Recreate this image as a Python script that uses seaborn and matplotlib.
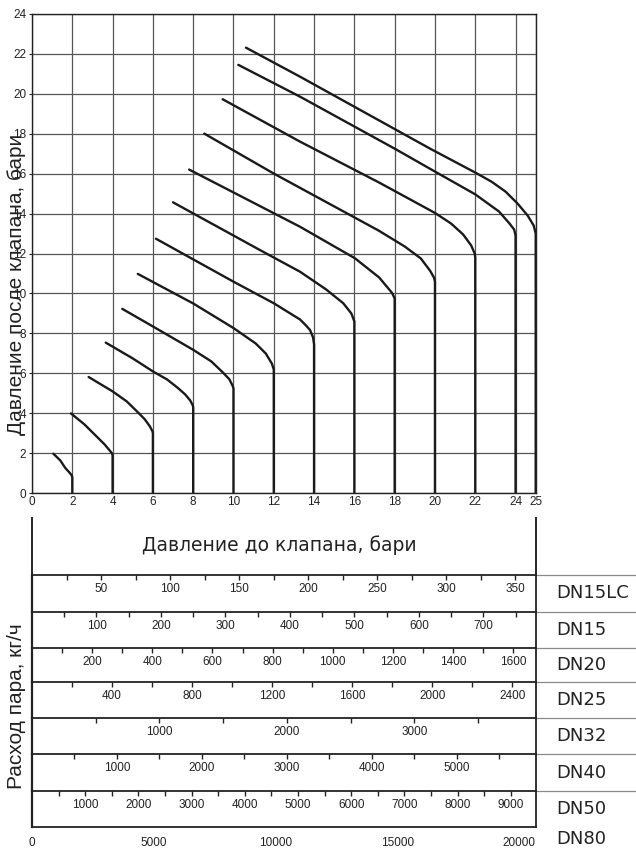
import numpy as np
import pandas as pd
import matplotlib
matplotlib.use("Agg")
import matplotlib.pyplot as plt
import seaborn as sns

# outlet pressure curves, one per max inlet pressure (bar)
curve_end = [2, 4, 6, 8, 10, 12, 14, 16, 18, 20, 22, 24, 25]
curve_x = [
    [1.06, 1.4, 1.65, 1.85, 1.97, 2.0, 2.0],
    [1.93, 2.6, 3.2, 3.6, 3.85, 3.97, 4.0, 4.0],
    [2.81, 4.0, 4.7, 5.28, 5.6, 5.85, 5.98, 6.0, 6.0],
    [3.66, 5.0, 6.0, 6.7, 7.23, 7.6, 7.85, 7.98, 8.0, 8.0],
    [4.48, 6.0, 8.0, 8.9, 9.49, 9.8, 9.97, 10.0, 10.0],
    [5.25, 8.0, 10.0, 11.1, 11.6, 11.9, 12.0, 12.0],
    [6.15, 10.0, 12.0, 13.3, 13.6, 13.8, 13.95, 14.0, 14.0],
    [7.0, 11.3, 13.3, 14.6, 15.45, 15.85, 16.0, 16.0],
    [7.8, 13.3, 16.03, 17.23, 17.87, 18.0, 18.0],
    [8.55, 12.0, 17.2, 18.5, 19.3, 19.75, 19.95, 20.0, 20.0],
    [9.46, 13.3, 17.23, 20.0, 20.8, 21.4, 21.8, 21.97, 22.0, 22.0],
    [10.24, 13.3, 18.03, 20.0, 22.0, 23.18, 23.7, 23.93, 24.0, 24.0],
    [10.62, 13.3, 19.79, 22.0, 22.8, 23.5, 24.1, 24.6, 24.9, 25.0, 25.0],
]
curve_y = [
    [1.98, 1.65, 1.27, 1.05, 0.9, 0.8, 0],
    [4.0, 3.45, 2.85, 2.45, 2.15, 2.0, 1.9, 0],
    [5.82, 5.1, 4.6, 4.03, 3.7, 3.35, 3.1, 3.0, 0],
    [7.54, 6.75, 6.1, 5.7, 5.28, 4.95, 4.65, 4.4, 4.3, 0],
    [9.23, 8.35, 7.18, 6.6, 6.03, 5.7, 5.35, 5.25, 0],
    [10.98, 9.5, 8.27, 7.5, 7.0, 6.5, 6.2, 0],
    [12.74, 10.59, 9.51, 8.7, 8.4, 8.17, 7.8, 7.45, 0],
    [14.56, 12.18, 11.09, 10.2, 9.51, 9.0, 8.6, 0],
    [16.2, 13.34, 11.76, 10.8, 10.03, 9.75, 0],
    [18.0, 16.0, 13.15, 12.35, 11.75, 11.15, 10.8, 10.6, 0],
    [19.72, 17.6, 15.55, 14.03, 13.5, 12.95, 12.4, 12.0, 11.8, 0],
    [21.44, 19.85, 17.23, 16.1, 14.96, 14.1, 13.5, 13.2, 12.9, 0],
    [22.3, 20.85, 17.23, 16.05, 15.6, 15.1, 14.5, 13.9, 13.4, 13.0, 0],
]
x_ticks = [0, 2, 4, 6, 8, 10, 12, 14, 16, 18, 20, 22, 24, 25]
y_ticks = [0, 2, 4, 6, 8, 10, 12, 14, 16, 18, 20, 22, 24]

# steam flow scales (kg/h), right edge = 25 bar
dn_names = ["DN15LC", "DN15", "DN20", "DN25", "DN32", "DN40", "DN50"]
dn_max = [365, 781, 1675, 2517, 3952, 5929, 9469]
dn_labels = [
    [50, 100, 150, 200, 250, 300, 350],
    [100, 200, 300, 400, 500, 600, 700],
    [200, 400, 600, 800, 1000, 1200, 1400, 1600],
    [400, 800, 1200, 1600, 2000, 2400],
    [1000, 2000, 3000],
    [1000, 2000, 3000, 4000, 5000],
    [1000, 2000, 3000, 4000, 5000, 6000, 7000, 8000, 9000],
]
dn_step = [25, 50, 100, 200, 500, 500, 500]
dn80_max = 20686
dn80_labels = [0, 5000, 10000, 15000, 20000]
dn80_step = 2500

rows = []
for i, (xs, ys) in enumerate(zip(curve_x, curve_y)):
    for x, y in zip(xs, ys):
        rows.append({"curve": str(curve_end[i]), "inlet": x, "outlet": y})
df = pd.DataFrame(rows)

sns.set_style("white")
plt.rcParams["font.family"] = ["Liberation Sans", "DejaVu Sans"]
ink = "#222222"

W, H = 636, 849
def rect(x0, y0, x1, y1):
    return [x0 / W, 1 - y1 / H, (x1 - x0) / W, (y1 - y0) / H]

fig = plt.figure(figsize=(W / 100, H / 100), dpi=100)
L, R = 32, 535.7

# main chart
ax = fig.add_axes(rect(L, 13.7, R, 493.3))
sns.lineplot(data=df, x="inlet", y="outlet", hue="curve", sort=False, estimator=None,
             palette=["#1a1a1a"] * len(curve_end), legend=False, lw=1.7, ax=ax, zorder=3)
ax.set_xlim(0, 25)
ax.set_ylim(0, 24)
ax.set_xticks(x_ticks)
ax.set_yticks(y_ticks)
ax.set_xlabel("")
ax.set_ylabel("")
ax.grid(True, color="#555555", lw=0.9)
ax.tick_params(axis="x", length=0, pad=2, labelsize=8.5, colors=ink)
ax.tick_params(axis="y", length=2.2, width=0.8, pad=2, labelsize=8.5, colors=ink, left=True)
for s in ax.spines.values():
    s.set_color(ink)
    s.set_linewidth(1.0)

fig.text(17 / W, 1 - 284 / H, "Давление после клапана, бари", rotation=90,
         ha="center", va="center", fontsize=15, color=ink)
fig.text(17 / W, 1 - 706 / H, "Расход пара, кг/ч", rotation=90,
         ha="center", va="center", fontsize=15, color=ink)

# header box
hdr = fig.add_axes(rect(L, 518, R, 575))
hdr.set_xticks([])
hdr.set_yticks([])
for side in ["top", "bottom"]:
    hdr.spines[side].set_visible(False)
for side in ["left", "right"]:
    hdr.spines[side].set_color(ink)
    hdr.spines[side].set_linewidth(1.4)
hdr.text(0.491, 0.526, "Давление до клапана, бари", transform=hdr.transAxes,
         ha="center", va="center", fontsize=13.5, family="DejaVu Sans", color=ink)

# flow rows
bounds = [575, 611.7, 648.3, 682.3, 718.3, 754.3, 791, 827]
for i, name in enumerate(dn_names):
    a = fig.add_axes(rect(L, bounds[i], R, bounds[i + 1]))
    a.set_xlim(0, dn_max[i])
    a.set_ylim(0, 1)
    a.set_yticks([])
    a.spines["bottom"].set_visible(False)
    for side in ["top", "left", "right"]:
        a.spines[side].set_color(ink)
    a.spines["top"].set_linewidth(1.3)
    a.spines["left"].set_linewidth(1.6)
    a.spines["right"].set_linewidth(1.3)
    a.xaxis.set_ticks_position("top")
    a.set_xticks(dn_labels[i])
    a.set_xticks(np.arange(dn_step[i], dn_max[i], dn_step[i]), minor=True)
    a.tick_params(axis="x", which="both", direction="in", length=3.6, width=1.0,
                  top=True, bottom=False, labeltop=True, labelbottom=False,
                  pad=-14.5, labelsize=8.5, colors=ink)
    a.plot([1, 1.2], [1, 1], transform=a.transAxes, clip_on=False, color="#8a8a8a", lw=0.9)
    a.text(1.04, 0.5, name, transform=a.transAxes, ha="left", va="center",
           fontsize=13, family="DejaVu Sans", color=ink)

# DN80 scale along the bottom
a80 = fig.add_axes(rect(L, bounds[-2], R, bounds[-1]))
a80.patch.set_alpha(0)
a80.set_xlim(0, dn80_max)
a80.set_yticks([])
for side in ["top", "left", "right"]:
    a80.spines[side].set_visible(False)
a80.spines["bottom"].set_color(ink)
a80.spines["bottom"].set_linewidth(1.3)
a80.set_xticks(dn80_labels)
a80.set_xticks(np.arange(dn80_step, dn80_max, dn80_step), minor=True)
a80.tick_params(axis="x", which="both", direction="out", length=3.6, width=1.0,
                pad=3.5, labelsize=8.5, colors=ink)
fig.text(556 / W, 1 - 839 / H, "DN80", ha="left", va="center",
         fontsize=13, family="DejaVu Sans", color=ink)

fig.savefig("out.png", dpi=100)
